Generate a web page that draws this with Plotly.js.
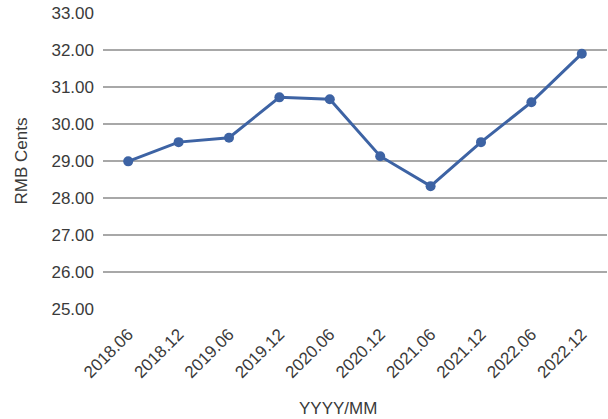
<!DOCTYPE html>
<html>
<head>
<meta charset="utf-8">
<script src="https://cdn.plot.ly/plotly-3.0.1.min.js"></script>
<style>html,body{margin:0;padding:0;background:#fff;}#chart{width:608px;height:419px;}</style>
</head>
<body>
<div id="chart"></div>
<script>
var periods = ["2018.06","2018.12","2019.06","2019.12","2020.06","2020.12","2021.06","2021.12","2022.06","2022.12"];
var rmbCents = [28.99, 29.51, 29.63, 30.72, 30.67, 29.13, 28.32, 29.51, 30.59, 31.90];
var yTicks = [25,26,27,28,29,30,31,32,33];
var yTickText = yTicks.map(function(v){return v.toFixed(2);});

var trace = {
  x: periods, y: rmbCents, type: 'scatter', mode: 'lines+markers',
  line: {color: '#3d63a4', width: 3},
  marker: {color: '#3d63a4', size: 10},
  hoverinfo: 'x+y'
};
var font = {family: 'Liberation Sans, Arial, sans-serif', size: 17, color: '#3a3a3a'};
var layout = {
  width: 608, height: 419,
  margin: {l: 103, r: 1, t: 13, b: 110},
  paper_bgcolor: '#fff', plot_bgcolor: '#fff',
  font: font,
  showlegend: false,
  xaxis: {
    type: 'category', range: [-0.5, 9.5], tickangle: -45,
    showgrid: false, zeroline: false, showline: false, ticks: '',
    ticklabelstandoff: 11,
    tickfont: {family: font.family, size: 17, color: '#3a3a3a'},
    automargin: false
  },
  yaxis: {
    range: [25, 33], tickvals: yTicks, ticktext: yTickText,
    showgrid: true, gridcolor: '#a8a8a8', gridwidth: 1.5, zeroline: false, showline: false,
    ticks: '', ticklabelstandoff: 8,
    tickfont: {family: font.family, size: 17, color: '#3a3a3a'},
    title: {text: 'RMB Cents', font: {family: font.family, size: 17, color: '#3a3a3a'}, standoff: 19},
    automargin: false
  },
  annotations: [{
    text: 'YYYY/MM', xref: 'paper', yref: 'paper', x: (338-103)/504, y: -0.335,
    xanchor: 'center', yanchor: 'middle', showarrow: false,
    font: {family: font.family, size: 17, color: '#3a3a3a'}
  }]
};
Plotly.newPlot('chart', [trace], layout, {displayModeBar: false, staticPlot: true});
</script>
</body>
</html>
